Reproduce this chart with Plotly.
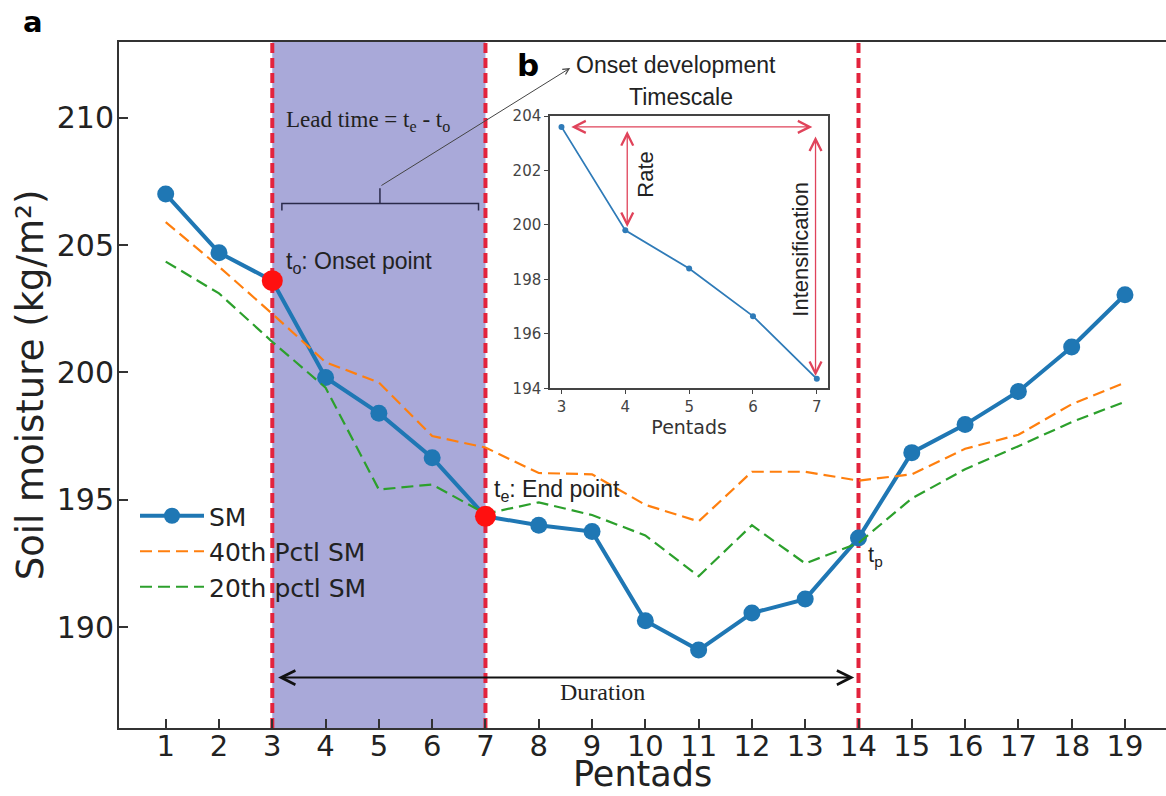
import plotly.graph_objects as go

# ---------------- data ----------------
pentads = list(range(1, 20))
sm = [207.0, 204.7, 203.6, 199.8, 198.4, 196.65, 194.35, 194.0, 193.75, 190.25,
      189.1, 190.55, 191.1, 193.5, 196.85, 197.95, 199.25, 201.0, 203.05]
pctl40 = [205.9, 204.15, 202.3, 200.4, 199.6, 197.5, 197.05, 196.05, 196.0, 194.8,
          194.15, 196.1, 196.1, 195.75, 196.0, 197.0, 197.55, 198.75, 199.6]
pctl20 = [204.35, 203.1, 201.2, 199.4, 195.4, 195.6, 194.45, 194.9, 194.4, 193.6,
          192.0, 194.0, 192.5, 193.3, 195.05, 196.2, 197.1, 198.05, 198.85]

onset_pentad = 3
end_pentad = 7
recovery_pentad = 14
event_pentads = [onset_pentad, end_pentad, recovery_pentad]

main_yticks = [190, 195, 200, 205, 210]
inset_yticks = [194, 196, 198, 200, 202, 204]

# derived subsets
inset_x = pentads[onset_pentad - 1:end_pentad]
inset_y = sm[onset_pentad - 1:end_pentad]
red_x = [onset_pentad, end_pentad]
red_y = [sm[onset_pentad - 1], sm[end_pentad - 1]]

W, H = 1166, 796
BLUE = "#1f77b4"
ORANGE = "#ff7f0e"
GREEN = "#2ca02c"
RED_LINE = "#e3243d"
ARROW_RED = "#e0435a"

fig = go.Figure()

fig.add_trace(go.Scatter(x=pentads, y=sm, mode="lines+markers", name="SM",
                         line=dict(color=BLUE, width=4),
                         marker=dict(color=BLUE, size=17),
                         xaxis="x", yaxis="y"))
fig.add_trace(go.Scatter(x=pentads, y=pctl40, mode="lines", name="40th Pctl SM",
                         line=dict(color=ORANGE, width=2.2, dash="12px,6px"),
                         xaxis="x", yaxis="y"))
fig.add_trace(go.Scatter(x=pentads, y=pctl20, mode="lines", name="20th pctl SM",
                         line=dict(color=GREEN, width=2.2, dash="12px,6px"),
                         xaxis="x", yaxis="y"))
fig.add_trace(go.Scatter(x=red_x, y=red_y, mode="markers", showlegend=False,
                         marker=dict(color="#ff1010", size=21),
                         xaxis="x", yaxis="y"))

# inset
fig.add_trace(go.Scatter(x=inset_x, y=inset_y, mode="lines+markers", showlegend=False,
                         line=dict(color="#2f7bb8", width=1.8),
                         marker=dict(color="#2f7bb8", size=6),
                         xaxis="x2", yaxis="y2"))

# shapes
shapes = [dict(type="rect", xref="x", yref="y domain", x0=onset_pentad, x1=end_pentad,
               y0=0, y1=1, fillcolor="#a9a9d9", line=dict(width=0), layer="below")]
for p in event_pentads:
    shapes.append(dict(type="line", xref="x", yref="y domain", x0=p, x1=p, y0=0, y1=1,
                       line=dict(color=RED_LINE, width=4, dash="10px,5px"), layer="below"))

# lead-time bracket
bl, br = onset_pentad + 0.18, end_pentad - 0.13
bmid = (onset_pentad + end_pentad) / 2 + 0.02
by = 206.63
shapes.append(dict(type="path", xref="x", yref="y",
                   path=f"M {bl},{by-0.27} L {bl},{by} L {br},{by} L {br},{by-0.27}",
                   line=dict(color="#2a2a4a", width=1.5)))
shapes.append(dict(type="line", xref="x", yref="y", x0=bmid, x1=bmid, y0=by, y1=by + 0.6,
                   line=dict(color="#2a2a4a", width=1.5)))

annotations = []
SANS = "Liberation Sans, Arial, sans-serif"
SERIF = "Liberation Serif, Times New Roman, serif"
AX = "DejaVu Sans"

def txt(text, x, y, xref="x", yref="y", size=22, family=SANS, xanchor="left",
        yanchor="middle", color="#222", angle=0):
    annotations.append(dict(text=text, x=x, y=y, xref=xref, yref=yref, showarrow=False,
                            font=dict(size=size, family=family, color=color),
                            xanchor=xanchor, yanchor=yanchor, textangle=angle))

def arrow(x0, y0, x1, y1, xref, yref, color, width, both=True, size=1.6, head=5):
    annotations.append(dict(text="", x=x1, y=y1, ax=x0, ay=y0, xref=xref, yref=yref,
                            axref=xref, ayref=yref, showarrow=True, arrowhead=head,
                            startarrowhead=head, arrowside="end+start" if both else "end",
                            arrowsize=size, startarrowsize=size,
                            arrowwidth=width, arrowcolor=color, standoff=0, startstandoff=0))

txt("t<sub>o</sub>: Onset point", 3.22, 204.3, size=23)
txt("Lead time = t<sub>e</sub> - t<sub>o</sub>", 3.22, 209.85, size=23, family=SERIF)
txt("t<sub>e</sub>: End point", 7.12, 195.37, size=23)
txt("t<sub>p</sub>", 14.14, 192.8, size=22)
txt("Duration", 9.2, 187.45, size=24, family=SERIF, xanchor="center")
arrow(onset_pentad + 0.08, 188.02, recovery_pentad - 0.08, 188.02, "x", "y", "#111", 2, True, 1.4)
# arrow to "Onset development"
arrow(bmid, 207.3, 8.59, 211.95, "x", "y", "#444", 1, False, 1.2)

txt("Onset development", 574 / W, 1 - 65 / H, xref="paper", yref="paper", size=23)
txt("Timescale", 681 / W, 1 - 97 / H, xref="paper", yref="paper", size=23, xanchor="center")
txt("<b>a</b>", 33 / W, 1 - 22 / H, xref="paper", yref="paper", size=29,
    family=AX, xanchor="center", color="#000")
txt("<b>b</b>", 528 / W, 1 - 65 / H, xref="paper", yref="paper", size=31,
    family=AX, xanchor="center", color="#000")
# main x-axis title
txt("Pentads", 642 / W, 0, xref="paper", yref="paper", size=35,
    family=AX, xanchor="center", yanchor="bottom")

# inset arrows & labels
arrow(3.13, 203.6, 6.93, 203.6, "x2", "y2", ARROW_RED, 1.3, True, 1.8)
arrow(4.03, 203.5, 4.03, 199.92, "x2", "y2", ARROW_RED, 1.3, True, 1.8)
arrow(6.98, 203.3, 6.98, 194.45, "x2", "y2", ARROW_RED, 1.3, True, 1.8)
txt("Rate", 4.31, 201.85, xref="x2", yref="y2", size=22, xanchor="center", angle=-90)
txt("Intensification", 6.74, 199.1, xref="x2", yref="y2", size=22, xanchor="center", angle=-90)

fig.update_layout(
    width=W, height=H, margin=dict(l=0, r=0, t=0, b=0, autoexpand=False),
    paper_bgcolor="white", plot_bgcolor="white",
    shapes=shapes, annotations=annotations,
    showlegend=True,
    legend=dict(x=135 / W, y=1 - 493 / H, xanchor="left", yanchor="top",
                bgcolor="rgba(0,0,0,0)", font=dict(family=AX, size=25, color="#222"),
                itemwidth=64, tracegroupgap=0),
    xaxis=dict(domain=[119 / W, 1.0], range=[0.1236, 19.77], tickvals=pentads,
               ticks="inside", ticklen=9, tickwidth=1.5, tickcolor="#333",
               showline=True, linecolor="#333", linewidth=2, mirror=True,
               showgrid=False, zeroline=False, ticklabelstandoff=-9, automargin=False,
               tickfont=dict(family=AX, size=29, color="#222")),
    yaxis=dict(domain=[1 - 728 / H, 1 - 42 / H], range=[186.04, 212.97],
               tickvals=main_yticks, ticks="inside", ticklen=9, tickwidth=1.5,
               tickcolor="#333", showline=True, linecolor="#333", linewidth=2,
               showgrid=False, zeroline=False, ticklabelstandoff=-3, automargin=False,
               tickfont=dict(family=AX, size=30, color="#222"),
               title=dict(text="Soil moisture (kg/m²)",
                          font=dict(family=AX, size=37, color="#222"), standoff=2)),
    xaxis2=dict(domain=[550 / W, 828.3 / W], range=[2.82, 7.18], anchor="y2",
                tickvals=inset_x, ticks="outside", ticklen=4, tickcolor="#444",
                showline=True, linecolor="#444", linewidth=1.5, mirror=True,
                showgrid=False, zeroline=False, automargin=False,
                tickfont=dict(family=AX, size=15, color="#444"),
                title=dict(text="Pentads", font=dict(family=AX, size=19, color="#333"),
                           standoff=2)),
    yaxis2=dict(domain=[1 - 388.3 / H, 1 - 116 / H], range=[194, 204], anchor="x2",
                tickvals=inset_yticks, ticks="outside", ticklen=4, tickcolor="#444",
                showline=True, linecolor="#444", linewidth=1.5, mirror=True,
                showgrid=False, zeroline=False, automargin=False,
                tickfont=dict(family=AX, size=15, color="#444")),
)

fig.write_html("out.html")
